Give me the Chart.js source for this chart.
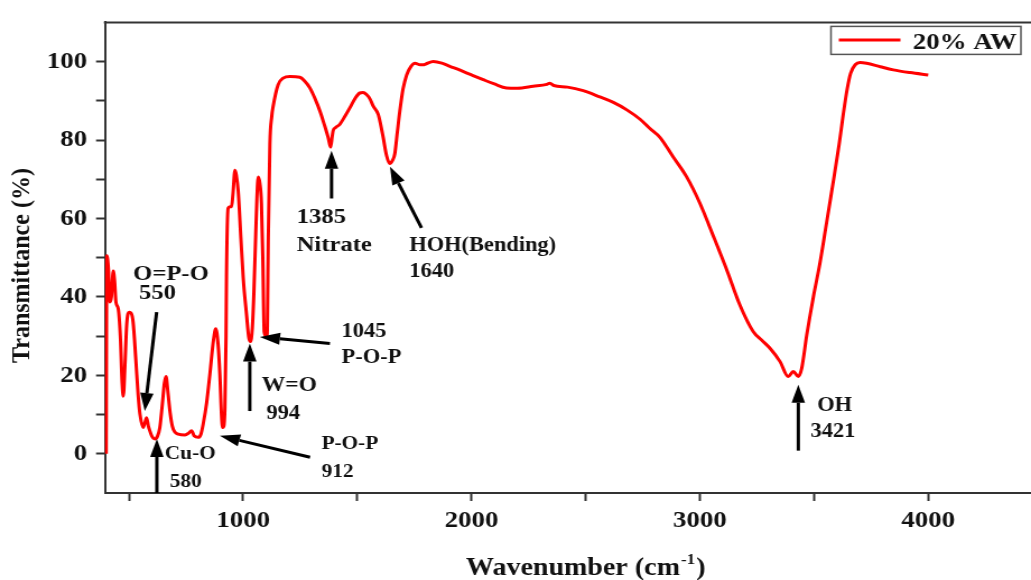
<!DOCTYPE html>
<html>
<head>
<meta charset="utf-8">
<title>FTIR - 20% AW</title>
<script src="https://cdn.jsdelivr.net/npm/chart.js@4.4.1/dist/chart.umd.min.js"></script>
<style>
  html, body { margin: 0; padding: 0; background: #fff; }
</style>
</head>
<body>
<!-- bitmap is 920 wide and shown at 1031: the plot is drawn slightly stretched -->
<canvas id="ftir" width="920" height="580" style="display:block;width:1031px;height:580px"></canvas>
<script>
// FTIR spectrum of the 20% AW sample
const wavenumber = [
    400, 403, 410, 416, 423, 431, 437, 443, 453, 462, 470, 475, 482, 490, 501, 510, 518, 530, 540, 548,
    562, 570, 577, 585, 591, 600, 613, 625, 635, 645, 655, 662, 670, 680, 690, 700, 716, 745, 760, 774,
    785, 803, 815, 825, 840, 854, 870, 880, 890, 898, 905, 910, 915, 920, 925, 927, 934, 942, 949, 955,
    964, 970, 978, 990, 1000, 1015, 1025, 1032, 1040, 1047, 1055, 1060, 1066, 1073, 1080, 1086, 1092, 1100, 1105, 1110,
    1117, 1125, 1131, 1153, 1175, 1205, 1248, 1270, 1292, 1315, 1336, 1355, 1372, 1383, 1390, 1394, 1405, 1423, 1445, 1467,
    1490, 1511, 1525, 1540, 1555, 1569, 1591, 1600, 1613, 1628, 1642, 1654, 1664, 1675, 1686, 1700, 1716, 1735, 1752, 1775,
    1788, 1800, 1832, 1870, 1905, 1950, 2000, 2051, 2100, 2153, 2200, 2270, 2330, 2343, 2360, 2420, 2489, 2562, 2621, 2680,
    2738, 2780, 2825, 2884, 2942, 3000, 3059, 3117, 3176, 3234, 3270, 3307, 3351, 3387, 3409, 3431, 3446, 3468, 3497, 3526,
    3555, 3585, 3610, 3628, 3645, 3660, 3680, 3701, 3730, 3790, 3847, 3920, 4000
];
const transmittance = [
    0, 50.5, 47, 38.7, 40, 46.6, 44, 38.6, 37, 30, 18, 14.7, 22, 33, 36.1, 35.8, 33.6, 24, 15, 10.1,
    6.7, 8, 9.2, 7, 5.9, 4.5, 3.8, 4.5, 6.7, 12, 18, 19.7, 16, 10.5, 7, 5.6, 5, 4.8, 5.2, 5.9,
    4.6, 4.2, 5, 7.6, 13, 20.2, 29, 31.9, 28, 20.2, 10, 6.7, 7, 11.8, 30, 45.4, 62.6, 63, 63, 66,
    72.3, 71, 67.2, 55, 45, 35.3, 29.5, 28.6, 32, 41.2, 56, 65, 70.6, 69, 63.9, 50, 31.1, 30, 30.5, 55,
    79, 86, 88.5, 94.1, 95.8, 96.2, 96, 95, 93.3, 90.5, 87.4, 84, 80.7, 78.2, 81, 82.4, 83.2, 84, 86, 88.2,
    90.6, 92, 92.1, 91.6, 90.5, 88.7, 86.6, 84.5, 80.7, 76, 74, 74.8, 76.5, 82, 87.4, 93, 96.6, 98.8, 99.6, 99.2,
    99.2, 99.4, 100, 99.6, 98.8, 97.8, 96.6, 95.4, 94.3, 93.3, 93.2, 93.7, 94.2, 94.5, 93.9, 93.5, 92.6, 91, 89.6, 87.7,
    85.3, 83, 80.7, 75.6, 70.6, 63.9, 55.5, 47, 37.8, 31.1, 29, 26.9, 23.5, 19.7, 21, 19.7, 21.8, 30.3, 40, 48.7,
    59, 69.7, 79, 86.6, 93, 97, 99.2, 99.8, 99.6, 98.7, 97.9, 97.2, 96.6
];

const xTicks = [500, 1000, 1500, 2000, 2500, 3000, 3500, 4000];
const xTickLabels = ['', '1000', '', '2000', '', '3000', '', '4000'];
const yTicks = [0, 10, 20, 30, 40, 50, 60, 70, 80, 90, 100];
const yTickLabels = ['0', '', '20', '', '40', '', '60', '', '80', '', '100'];

const seriesName = '20% AW';

// band assignment arrows, tail -> head, in (wavenumber, %T)
const bandArrows = [
    [[621, 36.1], [569, 10.9]],   // O=P-O
    [[622, -10], [622, 3.8]],     // Cu-O
    [[1293, -0.9], [898, 4.6]],   // P-O-P 912
    [[1029, 10.9], [1029, 28.1]], // W=O
    [[1380, 28.1], [1073, 29.8]], // P-O-P 1045
    [[1387, 65.1], [1387, 77.3]], // nitrate
    [[1781, 57.6], [1643, 73.2]], // HOH bending
    [[3431, 0.8], [3431, 17.6]]   // OH
];

// band labels: text, left x, baseline y, font size
const bandLabels = [
    ['O=P-O', 518, 44.2, 22],
    ['550', 544, 39.4, 22],
    ['Cu-O', 657, -1.3, 19],
    ['580', 679, -8.4, 19],
    ['P-O-P', 1343, 1.3, 19],
    ['912', 1343, -5.9, 19],
    ['W=O', 1081, 16, 21],
    ['994', 1102, 8.8, 20],
    ['1045', 1431, 29.8, 20],
    ['P-O-P', 1431, 23.1, 20],
    ['1385', 1234, 58.8, 22],
    ['Nitrate', 1234, 51.7, 22],
    ['HOH(Bending)', 1727, 51.8, 20],
    ['1640', 1727, 45, 20],
    ['OH', 3514, 10.9, 20],
    ['3421', 3485, 4.2, 20]
];

const SERIF = '"Liberation Serif", "Times New Roman", Times, serif';
const AXIS_COLOR = '#333';
const LINE_RED = '#ff0000';

function boldFont(size) {
    return `bold ${size}px ${SERIF}`;
}

function drawArrow(ctx, x0, y0, x1, y1) {
    const ang = Math.atan2(y1 - y0, x1 - x0);
    const headLen = 18, headHalf = 6;
    const bx = x1 - headLen * Math.cos(ang);
    const by = y1 - headLen * Math.sin(ang);
    ctx.beginPath();
    ctx.moveTo(x0, y0);
    ctx.lineTo(bx, by);
    ctx.stroke();
    ctx.beginPath();
    ctx.moveTo(x1, y1);
    ctx.lineTo(bx + headHalf * Math.sin(ang), by - headHalf * Math.cos(ang));
    ctx.lineTo(bx - headHalf * Math.sin(ang), by + headHalf * Math.cos(ang));
    ctx.closePath();
    ctx.fill();
}

// frame top line, band annotations, axis titles and legend box
const spectrumDecor = {
    id: 'spectrumDecor',
    afterDraw(chart) {
        const ctx = chart.ctx;
        const area = chart.chartArea;
        const xs = chart.scales.x;
        const ys = chart.scales.y;

        ctx.save();

        // top frame line
        ctx.strokeStyle = AXIS_COLOR;
        ctx.lineWidth = 2;
        ctx.beginPath();
        ctx.moveTo(area.left - 1, area.top);
        ctx.lineTo(area.right, area.top);
        ctx.stroke();

        // arrows
        ctx.strokeStyle = '#000';
        ctx.fillStyle = '#000';
        ctx.lineWidth = 3;
        bandArrows.forEach(([from, to]) => {
            drawArrow(ctx,
                xs.getPixelForValue(from[0]), ys.getPixelForValue(from[1]),
                xs.getPixelForValue(to[0]), ys.getPixelForValue(to[1]));
        });

        // labels
        ctx.fillStyle = '#111';
        ctx.textAlign = 'left';
        ctx.textBaseline = 'alphabetic';
        bandLabels.forEach(([text, x, y, size]) => {
            ctx.font = boldFont(size);
            ctx.fillText(text, xs.getPixelForValue(x), ys.getPixelForValue(y));
        });

        // x axis title with superscript
        const mainFont = boldFont(25);
        const supFont = boldFont(15);
        ctx.font = mainFont;
        const partA = 'Wavenumber (cm';
        const partC = ')';
        const wA = ctx.measureText(partA).width;
        const wC = ctx.measureText(partC).width;
        ctx.font = supFont;
        const wB = ctx.measureText('-1').width;
        const total = wA + wB + wC + 2;
        let tx = xs.getPixelForValue(2500) - total / 2;
        const ty = 575;
        ctx.font = mainFont;
        ctx.fillText(partA, tx, ty);
        tx += wA + 1;
        ctx.font = supFont;
        ctx.fillText('-1', tx, ty - 11);
        tx += wB + 1;
        ctx.font = mainFont;
        ctx.fillText(partC, tx, ty);

        // y axis title
        ctx.save();
        ctx.translate(area.left - 74, ys.getPixelForValue(48));
        ctx.rotate(-Math.PI / 2);
        ctx.font = boldFont(24);
        ctx.textAlign = 'center';
        ctx.textBaseline = 'middle';
        ctx.fillText('Transmittance (%)', 0, 0);
        ctx.restore();

        // legend
        const lx = area.right - 178.5, ly = area.top + 4;
        ctx.strokeStyle = '#555';
        ctx.lineWidth = 1.5;
        ctx.strokeRect(lx, ly, 169.5, 28);
        ctx.strokeStyle = LINE_RED;
        ctx.lineWidth = 3;
        ctx.beginPath();
        ctx.moveTo(lx + 7, ly + 13.5);
        ctx.lineTo(lx + 62, ly + 13.5);
        ctx.stroke();
        ctx.fillStyle = '#111';
        ctx.font = boldFont(24);
        ctx.textAlign = 'left';
        ctx.textBaseline = 'alphabetic';
        ctx.fillText(seriesName, lx + 73, ly + 23);

        ctx.restore();
    }
};

new Chart(document.getElementById('ftir'), {
    type: 'line',
    data: {
        datasets: [{
            label: seriesName,
            data: wavenumber.map((w, i) => ({ x: w, y: transmittance[i] })),
            borderColor: LINE_RED,
            borderWidth: 3,
            pointRadius: 0,
            fill: false,
            cubicInterpolationMode: 'monotone'
        }]
    },
    options: {
        responsive: false,
        devicePixelRatio: 1,
        animation: false,
        layout: { padding: { top: 16, right: 0, bottom: 0, left: 0 } },
        plugins: {
            legend: { display: false },
            tooltip: { enabled: false }
        },
        scales: {
            x: {
                type: 'linear',
                min: 395,
                max: 4450,
                afterBuildTicks: (scale) => { scale.ticks = xTicks.map(v => ({ value: v })); },
                afterFit: (scale) => { scale.height = 87; },
                border: { display: true, color: AXIS_COLOR, width: 2 },
                grid: {
                    drawOnChartArea: false,
                    drawTicks: true,
                    tickLength: 8,
                    tickWidth: 2,
                    tickColor: AXIS_COLOR
                },
                ticks: {
                    autoSkip: false,
                    maxRotation: 0,
                    padding: 5,
                    color: '#111',
                    font: { family: SERIF, size: 24, weight: 'bold' },
                    callback: (value) => {
                        const i = xTicks.indexOf(value);
                        return i >= 0 ? xTickLabels[i] : '';
                    }
                }
            },
            y: {
                min: -10,
                max: 110,
                afterBuildTicks: (scale) => { scale.ticks = yTicks.map(v => ({ value: v })); },
                afterFit: (scale) => { scale.width = 93.7; },
                border: { display: true, color: AXIS_COLOR, width: 2 },
                grid: {
                    drawOnChartArea: false,
                    drawTicks: true,
                    tickLength: 8,
                    tickWidth: 2,
                    tickColor: AXIS_COLOR
                },
                ticks: {
                    autoSkip: false,
                    padding: 8,
                    color: '#111',
                    font: { family: SERIF, size: 24, weight: 'bold' },
                    callback: (value) => {
                        const i = yTicks.indexOf(value);
                        return i >= 0 ? yTickLabels[i] : '';
                    }
                }
            }
        }
    },
    plugins: [spectrumDecor]
});
</script>
</body>
</html>
